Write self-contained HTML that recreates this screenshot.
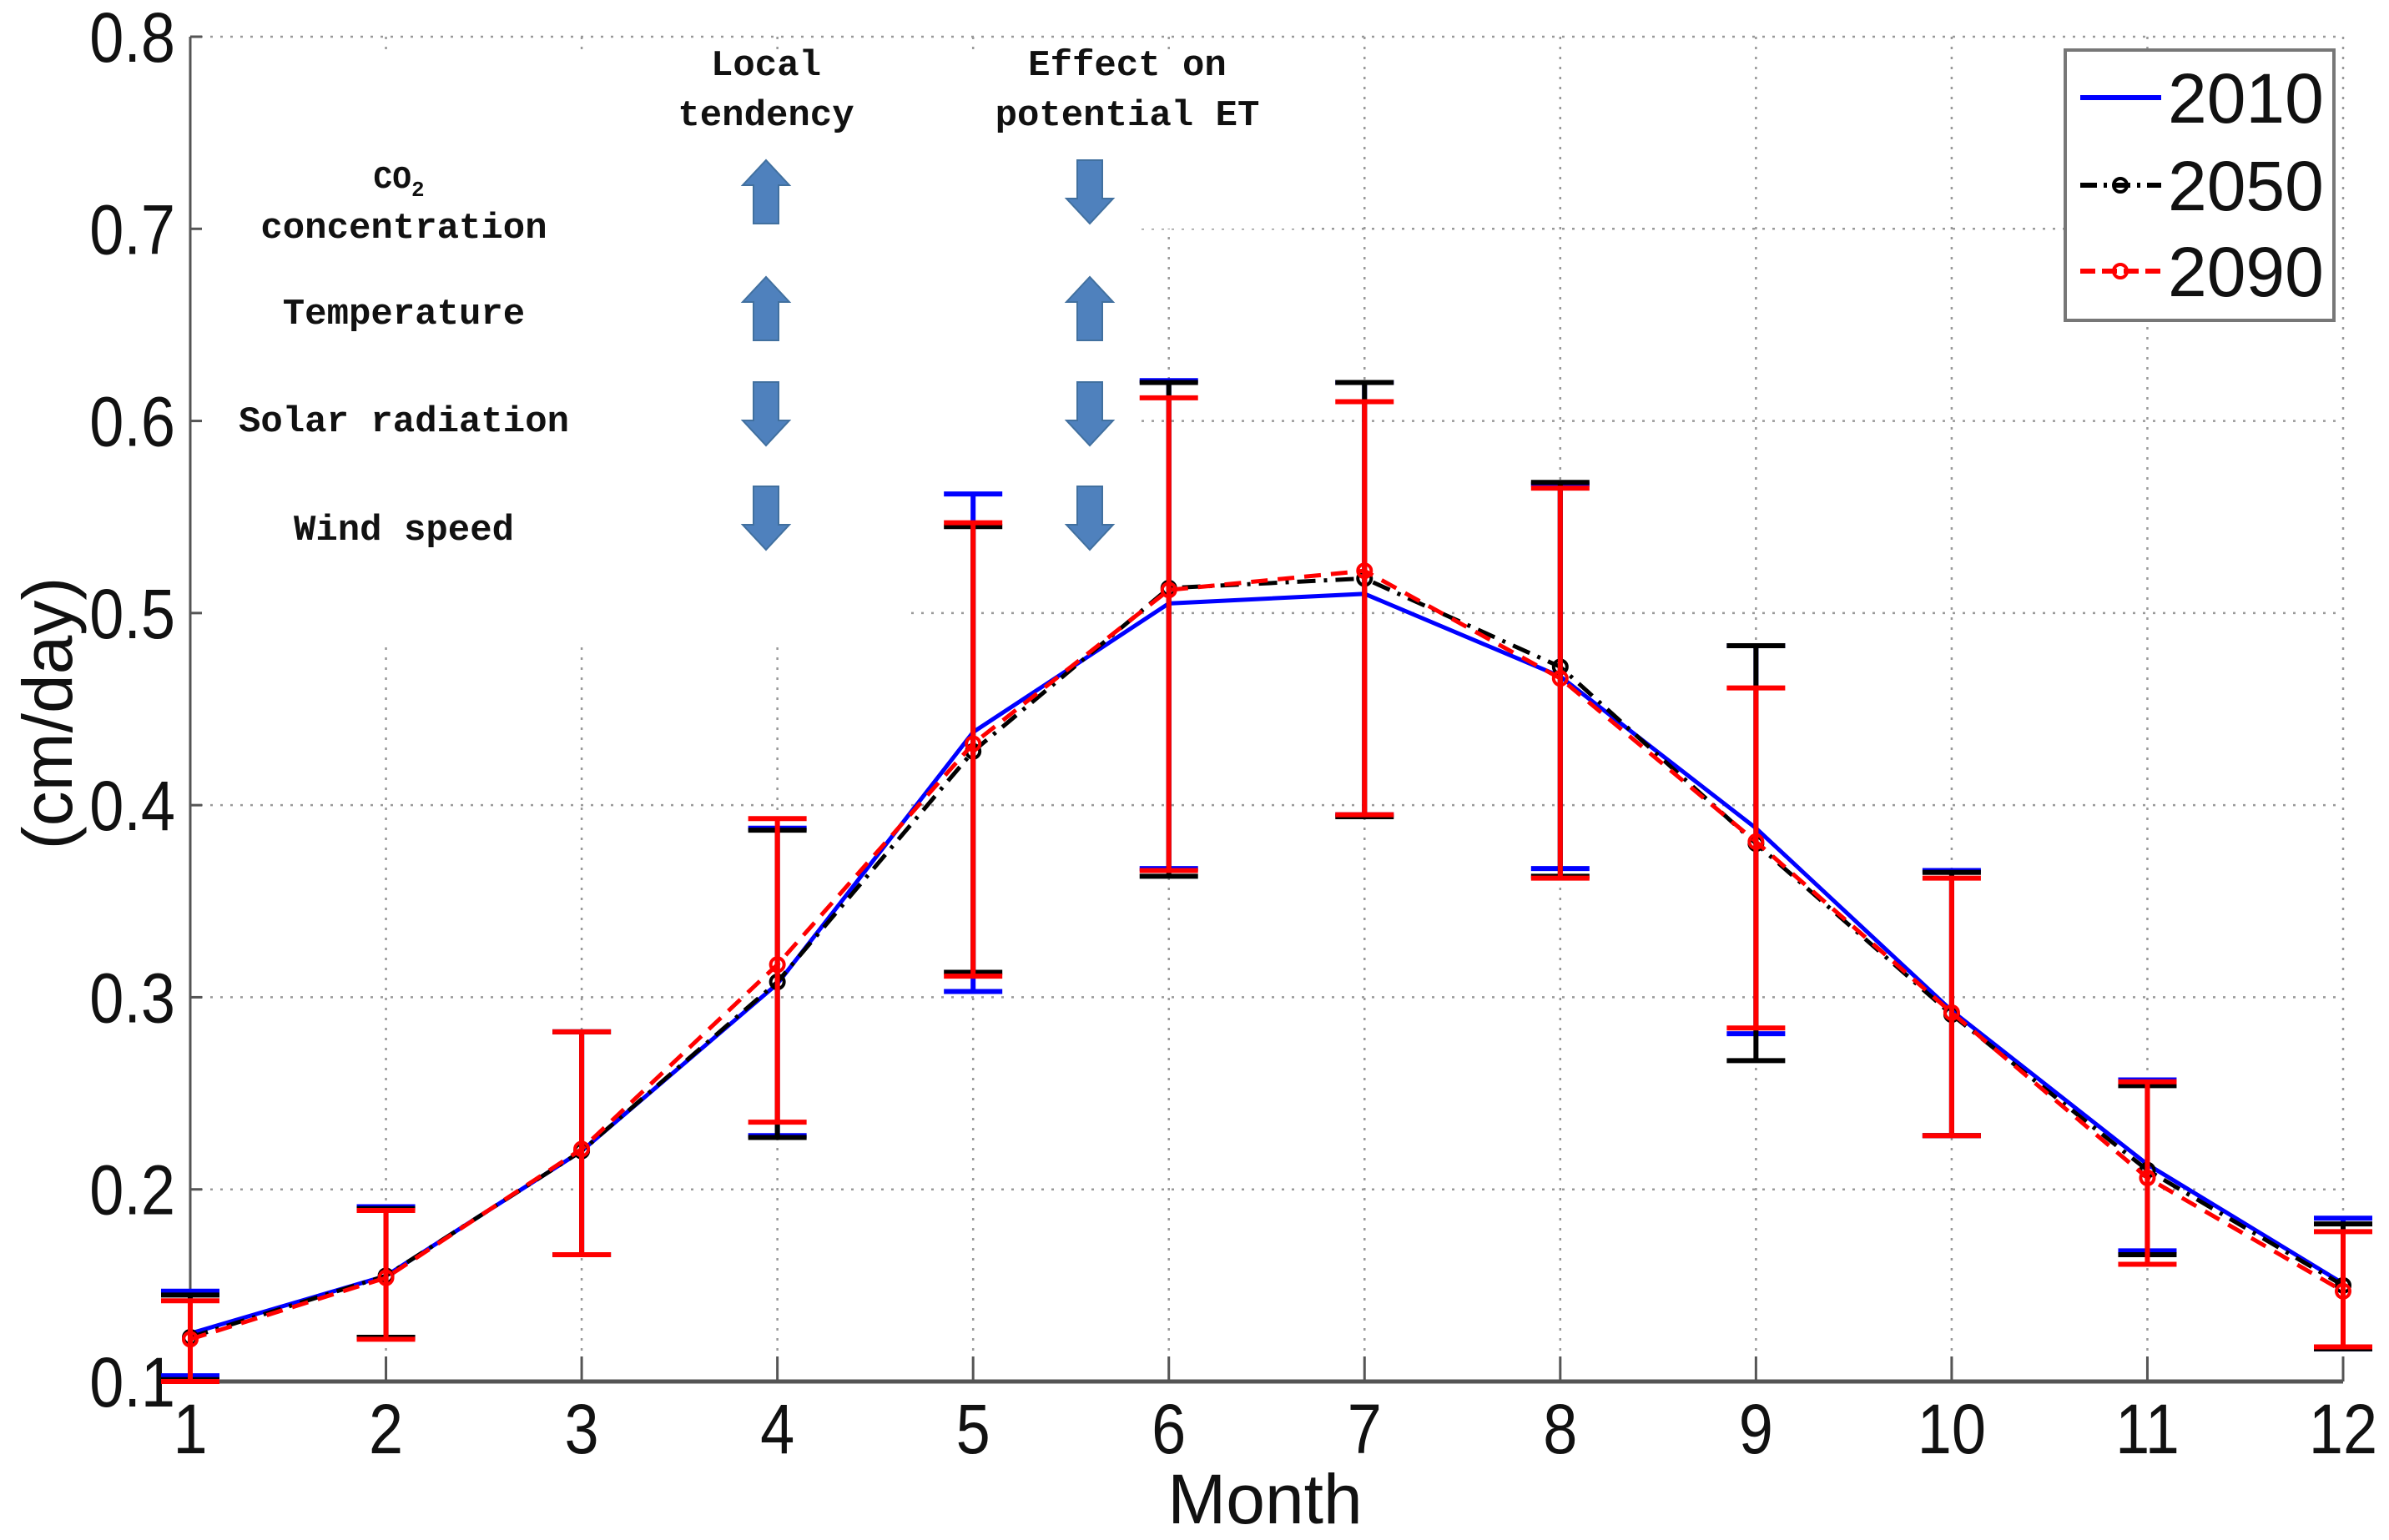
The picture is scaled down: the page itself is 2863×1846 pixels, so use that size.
<!DOCTYPE html>
<html><head><meta charset="utf-8"><style>
html,body{margin:0;padding:0;background:#fff;}
svg{display:block;}
</style></head><body>
<svg id="chart" width="2863" height="1846" viewBox="0 0 2863 1846" xmlns="http://www.w3.org/2000/svg"></svg>
<script>
const months = [1,2,3,4,5,6,7,8,9,10,11,12];
const yTicks = [0.1,0.2,0.3,0.4,0.5,0.6,0.7,0.8];
const yTickLabels = ["0.1","0.2","0.3","0.4","0.5","0.6","0.7","0.8"];
const mean2010 = [0.125,0.155,0.220,0.307,0.438,0.505,0.510,0.467,0.388,0.293,0.213,0.151];
const mean2050 = [0.123,0.155,0.220,0.308,0.428,0.513,0.518,0.472,0.380,0.291,0.210,0.150];
const mean2090 = [0.122,0.154,0.221,0.317,0.432,0.512,0.522,0.466,0.381,0.292,0.206,0.147];
const upper2010 = [0.147,0.191,0.282,0.388,0.562,0.621,0.620,0.567,0.483,0.366,0.257,0.185];
const lower2010 = [0.103,0.123,0.166,0.228,0.303,0.367,0.395,0.367,0.281,0.228,0.168,0.117];
const upper2050 = [0.145,0.190,0.282,0.387,0.545,0.620,0.620,0.568,0.483,0.365,0.254,0.182];
const lower2050 = [0.101,0.123,0.166,0.227,0.313,0.363,0.394,0.363,0.267,0.228,0.166,0.117];
const upper2090 = [0.142,0.189,0.282,0.393,0.547,0.612,0.610,0.565,0.461,0.362,0.256,0.178];
const lower2090 = [0.100,0.122,0.166,0.235,0.311,0.366,0.395,0.362,0.284,0.228,0.161,0.118];
const legendLabels = ["2010","2050","2090"];

const NS = "http://www.w3.org/2000/svg";
const svg = document.getElementById('chart');
const X0 = 228, X1 = 2808, Y0 = 1656, Y1 = 44;
function xs(m){ return X0 + (m-1)/(11)*(X1-X0); }
function ys(v){ return Y0 - (v-0.1)/0.7*(Y0-Y1); }
function el(tag, attrs, parent){
  const e = document.createElementNS(NS, tag);
  for (const k in attrs) e.setAttribute(k, attrs[k]);
  (parent||svg).appendChild(e);
  return e;
}

const grid = el('g', {});


months.forEach(m => {
  const l = el('line', {x1:xs(m), x2:xs(m), y1:Y1, y2:Y0, stroke:'#999', 'stroke-width':2.5, 'stroke-dasharray':'3 9'}, grid);
  
  
});
yTicks.forEach(v => {
  const l = el('line', {x1:X0, x2:X1, y1:ys(v), y2:ys(v), stroke:'#999', 'stroke-width':2.5, 'stroke-dasharray':'3 9'}, grid);
  
  
});
const mask = el('path', {d:'M230,62 L1558,62 L1558,274 L1365,274 L1365,728 L1091,728 L1091,776 L230,776 Z', fill:'#fff'});



const ann = el('g', {'font-family':'"Liberation Mono", monospace', 'font-weight':'bold', 'font-size':'44', fill:'#111', 'text-anchor':'middle'});


const annTexts = [
  ['Local',918,90,'col-header-local'],['tendency',918,150,'col-header-local'],
  ['Effect on',1351,90,'col-header-effect'],['potential ET',1351,150,'col-header-effect'],
  ['concentration',484,285,'row-label-co2'],['Temperature',484,388,'row-label-temperature'],
  ['Solar radiation',484,517,'row-label-solar'],['Wind speed',484,647,'row-label-wind']
];
annTexts.forEach(t => {
  const tx = el('text', {x:t[1], y:t[2]}, ann);
  tx.textContent = t[0];
  
  
});
const co2 = el('text', {x:478, y:225, 'font-size':'38'}, ann);
co2.innerHTML = 'CO<tspan font-size="26" dy="10">2</tspan>';



function arrow(cx, cy, up){
  const h = 76, hw = 28, sw = 15, hh = 30;
  const s = up ? -1 : 1;
  const tip = cy + s*h/2, base = cy - s*h/2, neck = tip - s*hh;
  const d = `M${cx-sw},${base} L${cx+sw},${base} L${cx+sw},${neck} L${cx+hw},${neck} L${cx},${tip} L${cx-hw},${neck} L${cx-sw},${neck} Z`;
  const a = el('path', {d, fill:'#4f81bd', stroke:'#41709f', 'stroke-width':2});
  
  
}
const rowsY = [230,370,496,621];
const localUp = [true,true,false,false];
const effectUp = [false,true,false,false];
rowsY.forEach((y,i) => { arrow(918,y,localUp[i]); arrow(1306,y,effectUp[i]); });

const axes = el('g', {});


const yAxis = el('line', {x1:X0, x2:X0, y1:Y1, y2:Y0, stroke:'#555', 'stroke-width':3}, axes);


const xAxis = el('line', {x1:X0, x2:X1, y1:Y0, y2:Y0, stroke:'#555', 'stroke-width':5}, axes);


yTicks.forEach((v,i) => {
  el('line', {x1:X0, x2:X0+14, y1:ys(v), y2:ys(v), stroke:'#555', 'stroke-width':3}, axes);
  const t = el('text', {x:210, y:ys(v)+30, 'text-anchor':'end', 'font-family':'"Liberation Sans", sans-serif', 'font-size':'84', fill:'#111', transform:`translate(210 0) scale(0.88 1) translate(-210 0)`}, axes);
  t.textContent = yTickLabels[i];
  
  
});
months.forEach(m => {
  el('line', {x1:xs(m), x2:xs(m), y1:Y0, y2:Y0-30, stroke:'#555', 'stroke-width':3}, axes);
  const t = el('text', {x:xs(m), y:1742, 'text-anchor':'middle', 'font-family':'"Liberation Sans", sans-serif', 'font-size':'84', fill:'#111', transform:`translate(${xs(m)} 0) scale(0.88 1) translate(${-xs(m)} 0)`}, axes);
  t.textContent = String(m);
  
  
});
const xt = el('text', {x:1516, y:1826, 'text-anchor':'middle', 'font-family':'"Liberation Sans", sans-serif', 'font-size':'84', fill:'#111'});
xt.textContent = 'Month';


const yt = el('text', {x:0, y:0, 'text-anchor':'middle', 'font-family':'"Liberation Sans", sans-serif', 'font-size':'84', fill:'#111', transform:'translate(86 855) rotate(-90)'});
yt.textContent = '(cm/day)';



const series = [
  {name:'2010', mean:mean2010, up:upper2010, lo:lower2010, color:'#0000ff', dash:'', marker:false},
  {name:'2050', mean:mean2050, up:upper2050, lo:lower2050, color:'#000000', dash:'22 10 4 10', marker:true},
  {name:'2090', mean:mean2090, up:upper2090, lo:lower2090, color:'#ff0000', dash:'20 12', marker:true}
];
series.forEach(s => {
  const g = el('g', {});
  
  
  months.forEach((m,i) => {
    const x = xs(m);
    const eb = el('path', {d:`M${x},${ys(s.up[i])} L${x},${ys(s.lo[i])} M${x-35},${ys(s.up[i])} L${x+35},${ys(s.up[i])} M${x-35},${ys(s.lo[i])} L${x+35},${ys(s.lo[i])}`, stroke:s.color, 'stroke-width':6, fill:'none'}, g);
    
    
  });
  const pts = months.map((m,i) => xs(m) + ',' + ys(s.mean[i])).join(' ');
  const pl = el('polyline', {points:pts, fill:'none', stroke:s.color, 'stroke-width':5, 'stroke-dasharray':s.dash}, g);
  
  
  if (s.marker) months.forEach((m,i) => {
    const c = el('circle', {cx:xs(m), cy:ys(s.mean[i]), r:8, fill:'none', stroke:s.color, 'stroke-width':4}, g);
    
    
  });
});

const lg = el('g', {});


el('rect', {x:2475, y:60, width:322, height:324, fill:'#fff', stroke:'#777', 'stroke-width':4}, lg);
const legY = [117,222,325];
series.forEach((s,i) => {
  const e = el('g', {}, lg);
  
  
  el('line', {x1:2493, x2:2590, y1:legY[i], y2:legY[i], stroke:s.color, 'stroke-width':6, 'stroke-dasharray':s.dash ? (i==1?'20 8 4 8':'18 8') : ''}, e);
  if (s.marker) el('circle', {cx:2541, cy:legY[i], r:8, fill:'none', stroke:s.color, 'stroke-width':4}, e);
  const t = el('text', {x:2598, y:legY[i]+30, 'font-family':'"Liberation Sans", sans-serif', 'font-size':'84', fill:'#111'}, e);
  t.textContent = legendLabels[i];
});
</script>
</body></html>
